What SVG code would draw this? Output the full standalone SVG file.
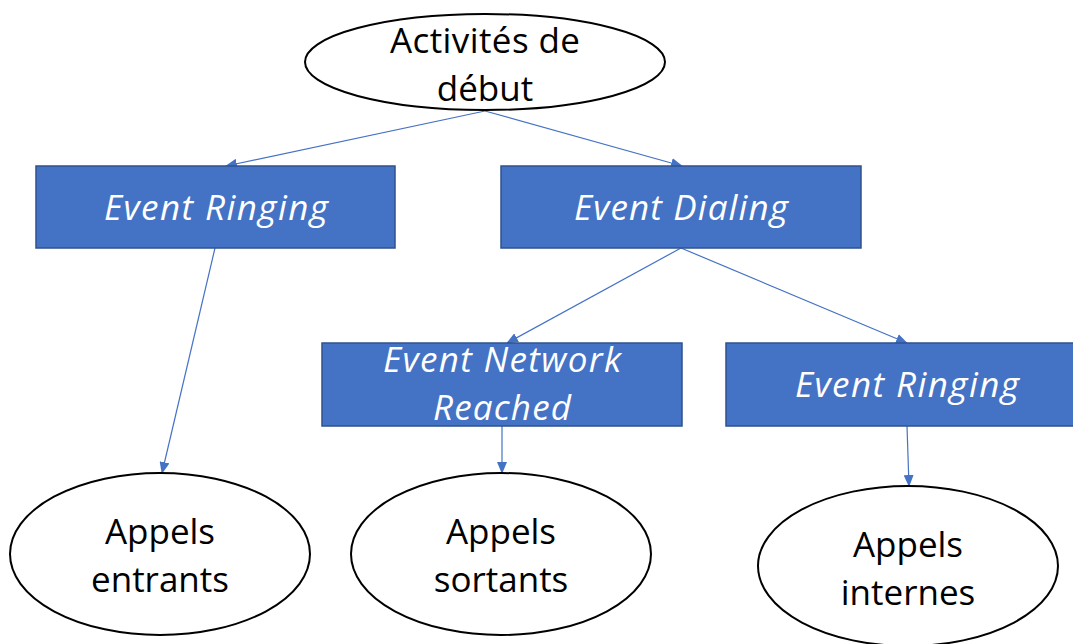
<svg xmlns="http://www.w3.org/2000/svg" width="1073" height="644" viewBox="0 0 1073 644">
<defs>
<marker id="arr" markerWidth="12" markerHeight="10" refX="11" refY="5" orient="auto" markerUnits="userSpaceOnUse">
<path d="M0,0 L12,5 L0,10 Z" fill="#4472C4"/>
</marker>
<style>
.box{fill:#4472C4;stroke:#2F528F;stroke-width:1.5}
.ell{fill:#fff;stroke:#000;stroke-width:2}
.bt{font-family:"Open Sans","Noto Sans",sans-serif;font-style:italic;font-size:35px;fill:#fff;text-anchor:middle}
.et{font-family:"Open Sans","Noto Sans",sans-serif;font-size:35px;fill:#000;text-anchor:middle}
.c{stroke:#4472C4;stroke-width:1.2;fill:none;marker-end:url(#arr)}
</style>
</defs>
<rect width="1073" height="644" fill="#fff"/>
<g id="connectors">
<line class="c" x1="485" y1="111" x2="226" y2="166"/>
<line class="c" x1="485" y1="111" x2="682" y2="166"/>
<line class="c" x1="215" y1="248" x2="162" y2="473"/>
<line class="c" x1="681" y1="248" x2="507" y2="343"/>
<line class="c" x1="681" y1="248" x2="907" y2="343"/>
<line class="c" x1="502" y1="426" x2="502" y2="473"/>
<line class="c" x1="907" y1="426" x2="909" y2="486"/>
</g>
<g id="start">
<ellipse class="ell" cx="485" cy="62" rx="180" ry="48"/>
<text class="et" x="485" y="53" textLength="190">Activités de</text>
<text class="et" x="485" y="101">début</text>
</g>
<g id="ringing1">
<rect class="box" x="36" y="166" width="359" height="82"/>
<text class="bt" x="216" y="220" textLength="224">Event Ringing</text>
</g>
<g id="dialing">
<rect class="box" x="501" y="166" width="360" height="82"/>
<text class="bt" x="681" y="220" textLength="214">Event Dialing</text>
</g>
<g id="network">
<rect class="box" x="322" y="343" width="360" height="83"/>
<text class="bt" x="502" y="372" textLength="238">Event Network</text>
<text class="bt" x="502" y="420" textLength="138">Reached</text>
</g>
<g id="ringing2">
<rect class="box" x="726" y="343" width="360" height="83"/>
<text class="bt" x="907" y="397" textLength="224">Event Ringing</text>
</g>
<g id="entrants">
<ellipse class="ell" cx="160" cy="554" rx="150" ry="81"/>
<text class="et" x="160" y="544">Appels</text>
<text class="et" x="160" y="592">entrants</text>
</g>
<g id="sortants">
<ellipse class="ell" cx="501" cy="554" rx="150" ry="81"/>
<text class="et" x="501" y="544">Appels</text>
<text class="et" x="501" y="592">sortants</text>
</g>
<g id="internes">
<ellipse class="ell" cx="908" cy="566" rx="150" ry="80"/>
<text class="et" x="908" y="557">Appels</text>
<text class="et" x="908" y="605">internes</text>
</g>
</svg>
